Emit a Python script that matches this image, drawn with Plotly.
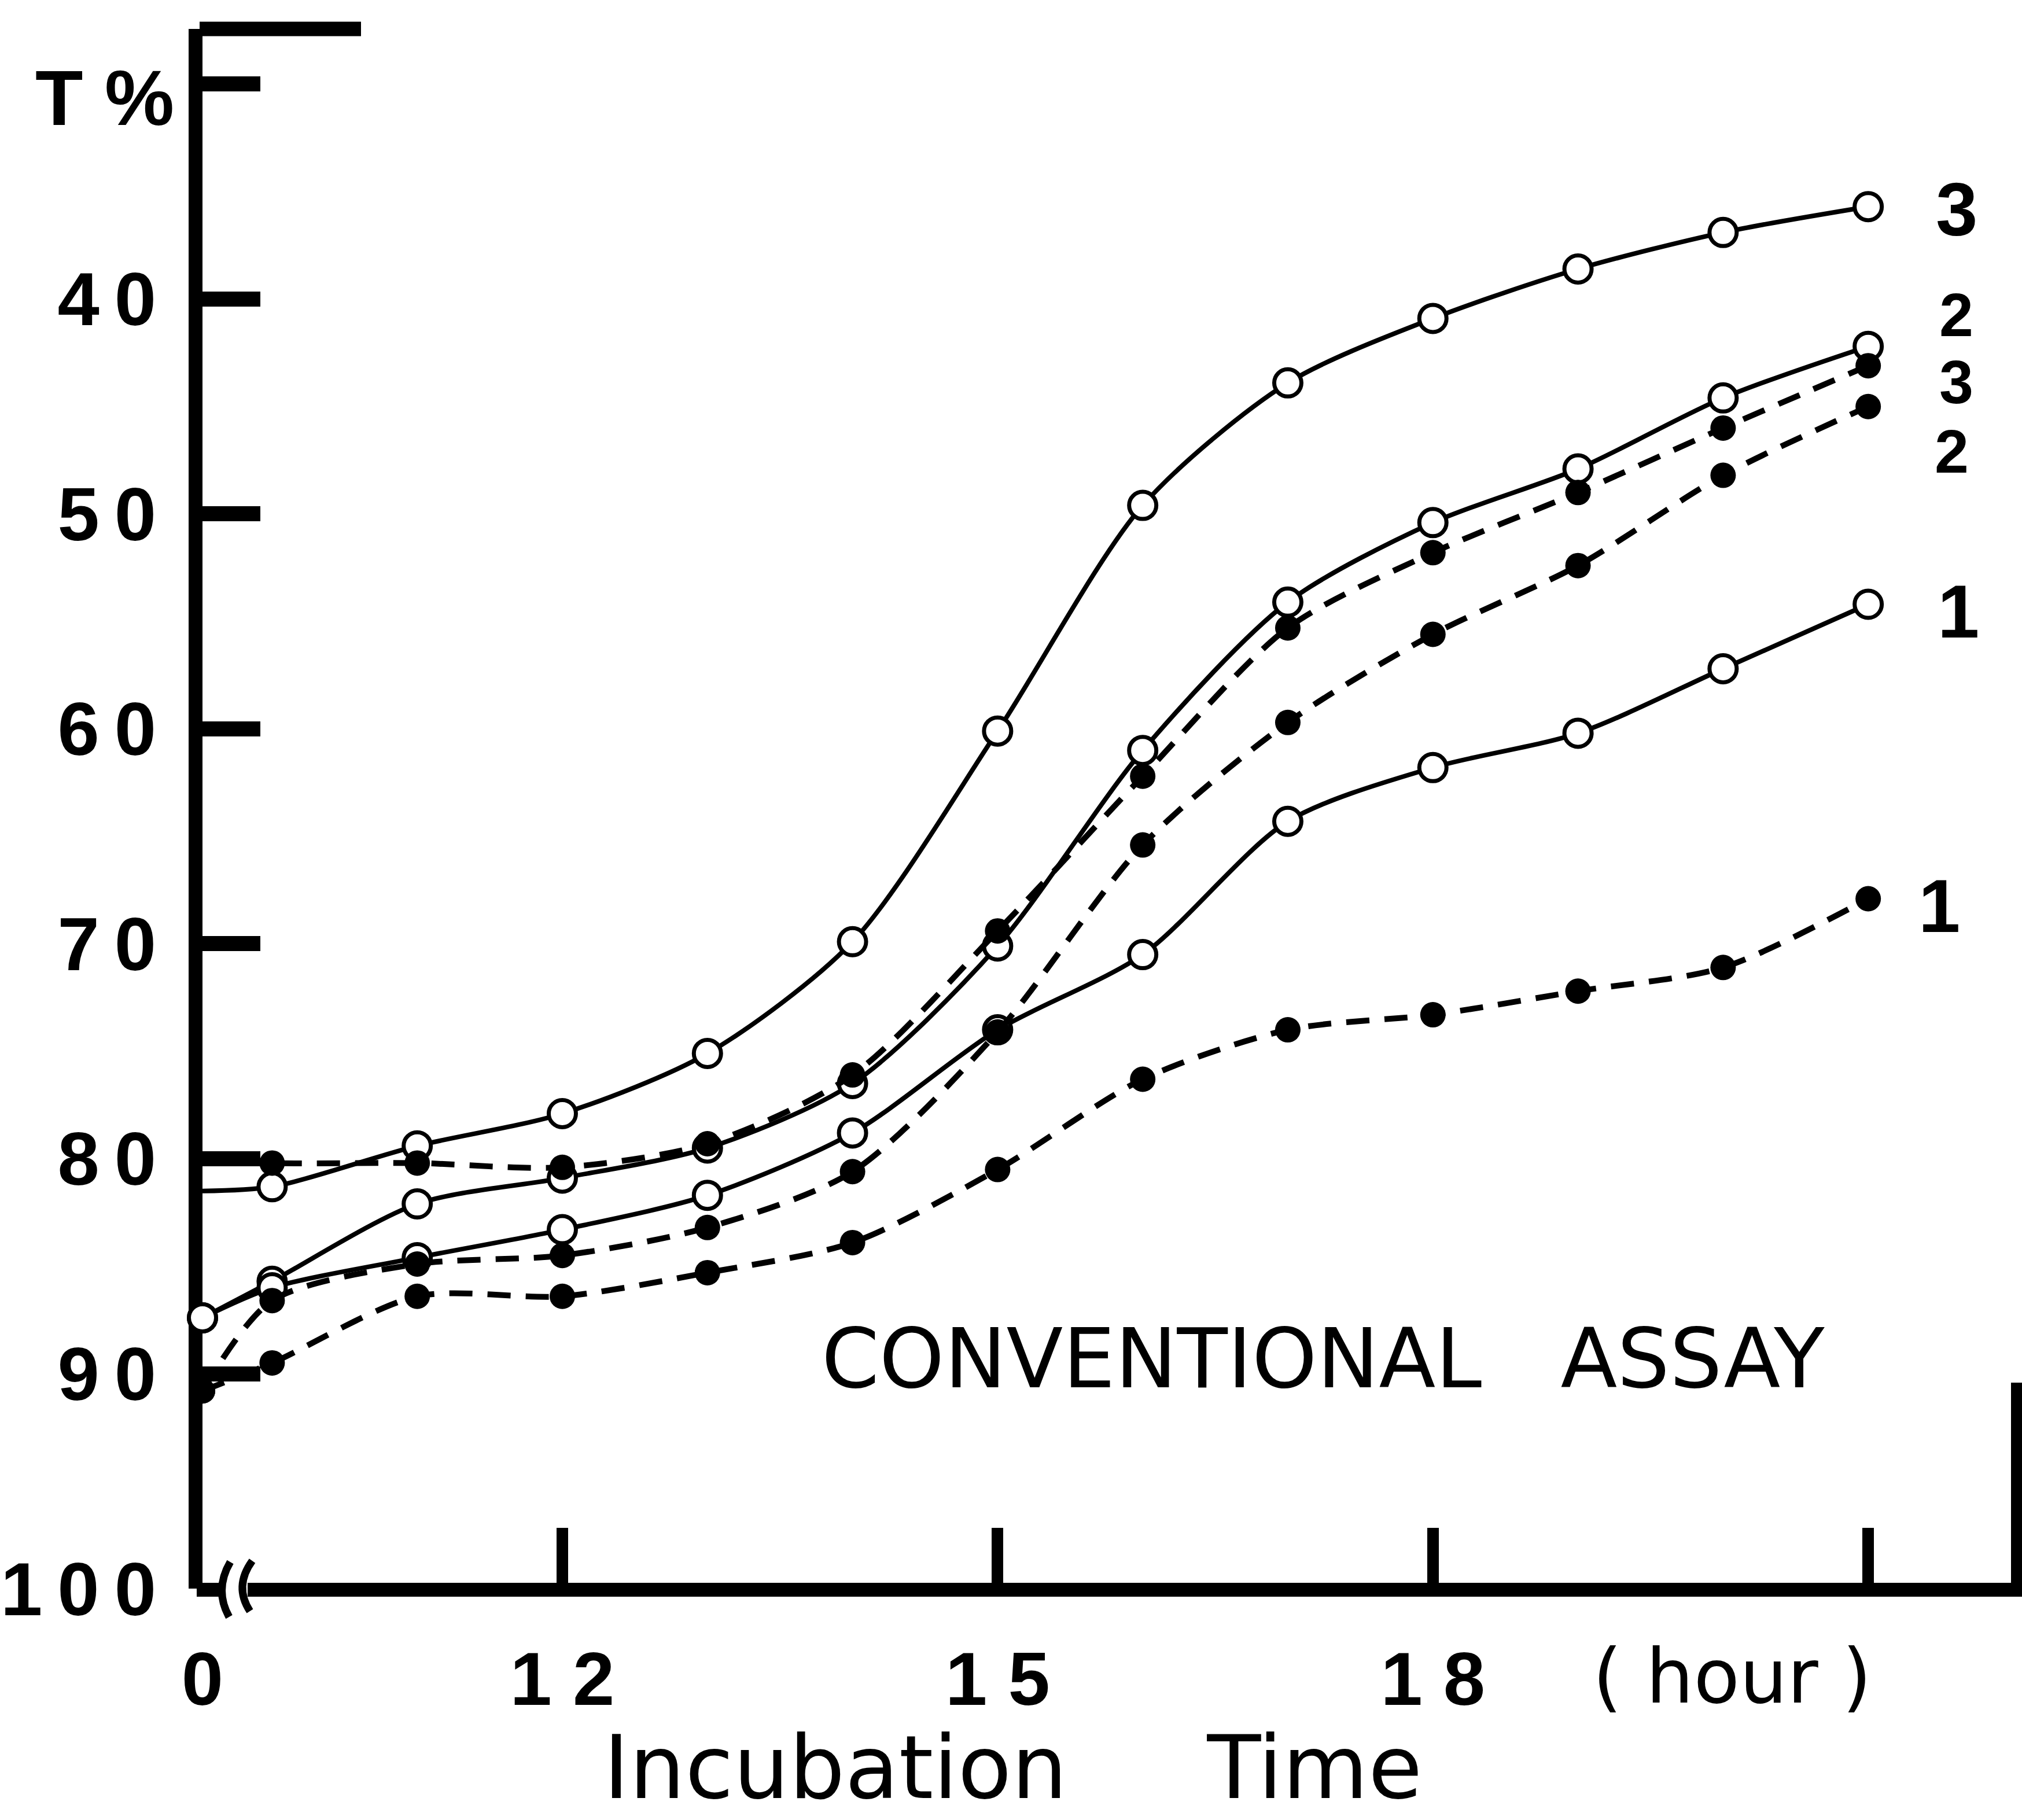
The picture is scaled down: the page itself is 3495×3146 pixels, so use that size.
import plotly.graph_objects as go

# ---------------- data ----------------
HOURS = [0, 10, 11, 12, 13, 14, 15, 16, 17, 18, 19, 20, 21]

# open circles, solid lines
OPEN_1 = [87.4, 86.0, 84.6, 83.3, 81.7, 78.8, 74.0, 70.5, 64.3, 61.8, 60.2, 57.2, 54.2]
OPEN_2 = [87.4, 85.7, 82.1, 80.9, 79.5, 76.5, 70.1, 61.0, 54.1, 50.4, 47.9, 44.6, 42.2]
OPEN_3 = [81.5, 81.3, 79.4, 77.9, 75.1, 69.9, 60.1, 49.6, 43.9, 40.9, 38.6, 36.9, 35.7]

# filled dots, dashed lines
FILLED_1 = [90.8, 89.5, 86.4, 86.4, 85.3, 83.9, 80.5, 76.3, 74.0, 73.3, 72.2, 71.1, 67.9]
FILLED_2 = [90.8, 86.6, 84.9, 84.5, 83.2, 80.6, 74.1, 65.4, 59.7, 55.6, 52.4, 48.2, 45.0]
FILLED_3 = [80.0, 80.2, 80.2, 80.4, 79.3, 76.1, 69.4, 62.2, 55.3, 51.8, 49.0, 46.0, 43.1]

TS = "\u2009"  # thin space between digits, as in the original spaced-out labels
Y_TICKS = [30, 40, 50, 60, 70, 80, 90, 100]
Y_TICK_TEXT = ["", "4" + TS + "0", "5" + TS + "0", "6" + TS + "0", "7" + TS + "0",
               "8" + TS + "0", "9" + TS + "0", "1" + TS + "0" + TS + "0"]
X_TICKS = [0, 12, 15, 18, 21]
X_TICK_TEXT = ["0", "1 2", "1 5", "1 8", ""]

# ---------------- layout constants ----------------
W, H = 3495, 3146
ML, MR, MT, MB = 350, 0, 50, 400
PW, PH = W - ML - MR, H - MT - MB
ZERO_POS = 9.52          # broken time axis: where hour 0 sits
X_RANGE = [ZERO_POS, 22.06]
Y_RANGE = [100, 27.43]

BOLD = "Liberation Sans, Arial, sans-serif"
REG = "DejaVu Sans, Liberation Sans, sans-serif"


def xpos(h):
    return ZERO_POS if h == 0 else h


def pxp(x):  # pixel -> paper x
    return (x - ML) / PW


def pyp(y):  # pixel -> paper y
    return (H - MB - y) / PH


xs = [xpos(h) for h in HOURS]

fig = go.Figure()

OPEN_SIZE, OPEN_LW = 47, 7
FILL_SIZE = 44


def add_open(vals, hide_first=False):
    op = [0 if (hide_first and i == 0) else 1 for i in range(len(vals))]
    fig.add_trace(go.Scatter(
        x=xs, y=vals, mode="lines+markers", cliponaxis=False,
        line=dict(color="black", width=8, shape="spline", smoothing=0.8),
        marker=dict(symbol="circle", size=OPEN_SIZE, color="white", opacity=op,
                    line=dict(color="black", width=OPEN_LW)),
        showlegend=False))


def add_filled(vals, hide_first=False):
    op = [0 if (hide_first and i == 0) else 1 for i in range(len(vals))]
    fig.add_trace(go.Scatter(
        x=xs, y=vals, mode="lines+markers", cliponaxis=False,
        line=dict(color="black", width=10, dash="40px,26px", shape="spline", smoothing=0.8),
        marker=dict(symbol="circle", size=FILL_SIZE, color="black", opacity=op,
                    line=dict(width=0)),
        showlegend=False))


add_open(OPEN_3, hide_first=True)
add_open(OPEN_2)
add_open(OPEN_1)
add_filled(FILLED_3, hide_first=True)
add_filled(FILLED_2)
add_filled(FILLED_1)

# series labels at the right end of each curve: (text, series, xshift, yshift, size)
labels = [
    ("3", OPEN_3, 153, -5, 130),
    ("2", OPEN_2, 152, 55, 106),
    ("3", FILLED_3, 152, -28, 106),
    ("2", FILLED_2, 144, -77, 106),
    ("1", OPEN_1, 156, -12, 130),
    ("1", FILLED_1, 123, -13, 130),
]
annotations = []
for txt, vals, dx, dy, fs in labels:
    annotations.append(dict(
        x=xpos(HOURS[-1]), y=vals[-1], xref="x", yref="y", text=txt,
        showarrow=False, xshift=dx, yshift=dy, xanchor="center", yanchor="middle",
        font=dict(family=BOLD, size=fs, color="black", weight="bold")))

NB = "\u00a0"
annotations += [
    dict(x=pxp(181), y=pyp(170), xref="paper", yref="paper", text="T" + NB + "%",
         showarrow=False, xanchor="center", yanchor="middle",
         font=dict(family=BOLD, size=135, color="black", weight="bold")),
    dict(x=pxp(1418), y=pyp(2348), xref="paper", yref="paper",
         text="CONVENTIONAL" + NB * 3 + "ASSAY",
         showarrow=False, xanchor="left", yanchor="middle",
         font=dict(family=REG, size=143, color="black")),
    dict(x=pxp(2994), y=pyp(2898), xref="paper", yref="paper",
         text="(" + NB + "hour" + NB + ")",
         showarrow=False, xanchor="center", yanchor="middle",
         font=dict(family=REG, size=130, color="black")),
    dict(x=pxp(1750), y=pyp(3055), xref="paper", yref="paper",
         text="Incubation" + NB * 5 + "Time",
         showarrow=False, xanchor="center", yanchor="middle",
         font=dict(family=REG, size=152, color="black")),
]

# axis decorations: top hook, bottom axis line after the break, break marks, right edge
shapes = [
    dict(type="line", xref="paper", yref="paper", x0=pxp(345), x1=pxp(624), y0=pyp(50), y1=pyp(50),
         line=dict(color="black", width=25), layer="above"),
    dict(type="line", xref="paper", yref="paper", x0=pxp(428), x1=1.0, y0=pyp(2748), y1=pyp(2748),
         line=dict(color="black", width=24), layer="above"),
    dict(type="line", xref="paper", yref="paper", x0=pxp(340), x1=pxp(378), y0=pyp(2748), y1=pyp(2748),
         line=dict(color="black", width=24), layer="above"),
    dict(type="path", xref="paper", yref="paper",
         path="M {a},{b} Q {c},{d} {e},{f}".format(a=pxp(398), b=pyp(2700), c=pxp(370), d=pyp(2748),
                                                   e=pxp(396), f=pyp(2795)),
         line=dict(color="black", width=13), layer="above"),
    dict(type="path", xref="paper", yref="paper",
         path="M {a},{b} Q {c},{d} {e},{f}".format(a=pxp(436), b=pyp(2698), c=pxp(404), d=pyp(2742),
                                                   e=pxp(432), f=pyp(2785)),
         line=dict(color="black", width=13), layer="above"),
    dict(type="line", xref="paper", yref="paper", x0=pxp(3486), x1=pxp(3486), y0=pyp(2390), y1=pyp(2760),
         line=dict(color="black", width=20), layer="above"),
]

fig.update_layout(
    width=W, height=H,
    margin=dict(l=ML, r=MR, t=MT, b=MB, pad=0),
    paper_bgcolor="white", plot_bgcolor="white",
    annotations=annotations, shapes=shapes,
    xaxis=dict(range=X_RANGE, showgrid=False, zeroline=False, showline=False, automargin=False,
               tickmode="array", tickvals=[xpos(h) for h in X_TICKS], ticktext=X_TICK_TEXT,
               ticks="inside", ticklen=105, tickwidth=20, tickcolor="black",
               ticklabelstandoff=70,
               tickfont=dict(family=BOLD, size=130, color="black", weight="bold")),
    yaxis=dict(range=Y_RANGE, showgrid=False, zeroline=False, automargin=False,
               showline=True, linewidth=24, linecolor="black", layer="below traces",
               tickmode="array", tickvals=Y_TICKS, ticktext=Y_TICK_TEXT,
               ticks="inside", ticklen=100, tickwidth=26, tickcolor="black",
               ticklabelstandoff=30,
               tickfont=dict(family=BOLD, size=130, color="black", weight="bold")),
)

fig.write_html("out.html")
